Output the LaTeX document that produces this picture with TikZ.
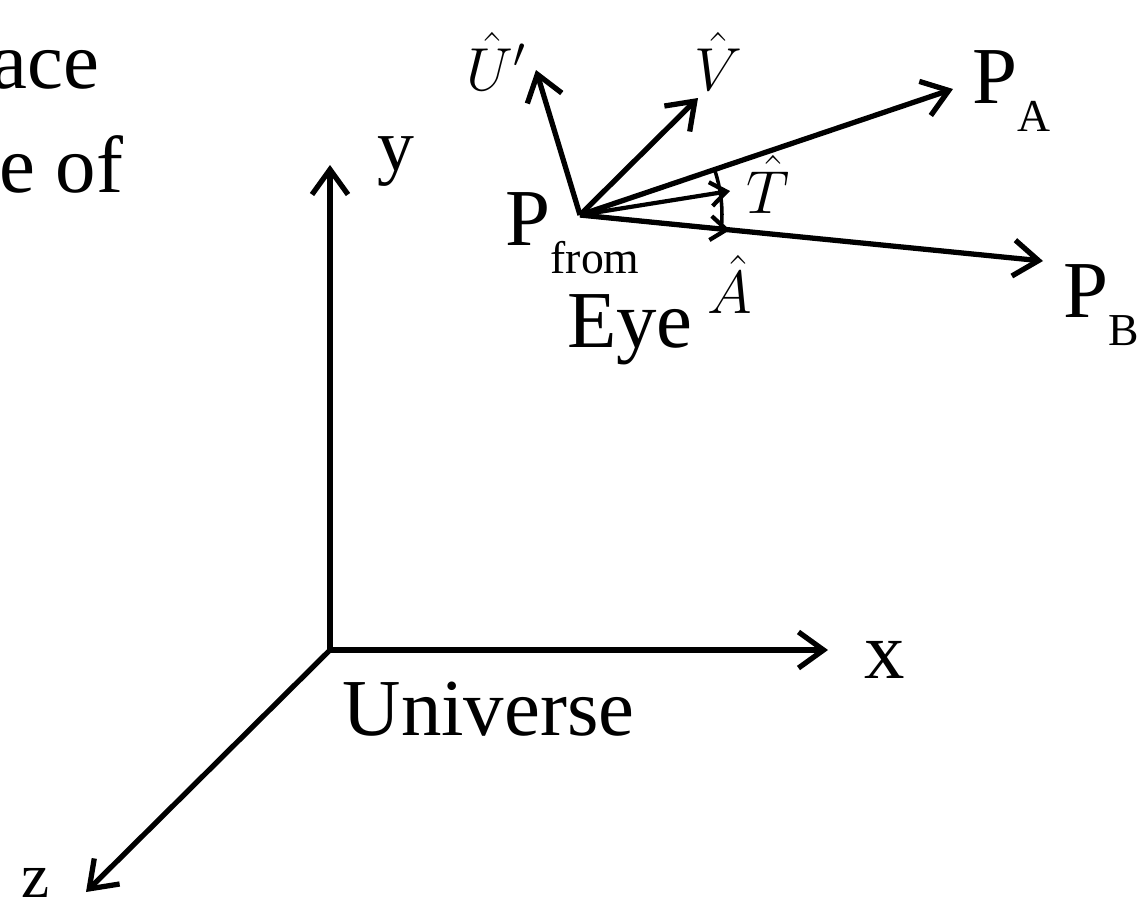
\documentclass[tikz,border=0pt]{standalone}
\usepackage{fontspec}
\setmainfont{Liberation Serif}
\usepackage{amsmath}
\usepackage{tikz}
\usetikzlibrary{arrows.meta, calc}
\newcommand{\lowsub}[1]{\raisebox{-8pt}{\fontsize{13}{13}\selectfont #1}}

\begin{document}
\begin{tikzpicture}[font=\fontsize{23}{27}\selectfont,
  vec/.style={-{Straight Barb[length=2.5mm, width=3.6mm]}, line width=1.5pt},
  unitvec/.style={-{Straight Barb[length=1.6mm, width=2.4mm]}, line width=1.2pt},
  lbl/.style={font=\fontsize{17}{20}\selectfont, inner sep=0pt}]
\useasboundingbox (0,0) rectangle (11.43,9.05);
\node[anchor=base east, inner sep=0pt] (txtA) at (1.00,8.17) {ace};
\node[anchor=base east, inner sep=0pt] (txtB) at (1.24,7.13) {e of};
\coordinate (O) at (3.30,2.55);
\coordinate (ytip) at (3.30,7.40);
\coordinate (xtip) at (8.28,2.55);
\coordinate (ztip) at (0.86,0.13);
\draw[vec] (O) -- (ytip);
\draw[vec] (O) -- (xtip);
\draw[vec] (O) -- (ztip);
\node[anchor=base, inner sep=0pt, font=\fontsize{21}{25}\selectfont] (ylab) at (3.96,7.35) {y};
\node[anchor=base, inner sep=0pt] (xlab) at (8.85,2.27) {x};
\node[anchor=base, inner sep=0pt, font=\fontsize{18}{21}\selectfont] (zlab) at (0.36,0.08) {z};
\node[anchor=base west, inner sep=0pt] (univ) at (3.42,1.70) {Universe};
\coordinate (F) at (5.80,6.90);
\coordinate (Utip) at (5.36,8.35);
\coordinate (Vtip) at (6.98,8.07);
\coordinate (PAtip) at (9.53,8.16);
\coordinate (PBtip) at (10.43,6.44);
\coordinate (Ttip) at (7.30,7.14);
\coordinate (Atip) at (7.30,6.75);
\draw[vec] (F) -- (Utip);
\draw[vec] (F) -- (Vtip);
\draw[vec] (F) -- (PAtip);
\draw[vec] (F) -- (PBtip);
\draw[unitvec] (F) -- (Ttip);
\draw[unitvec] (F) -- (Atip);
\draw[line width=1pt] ($(F)+(18.7:1.42)$) arc[start angle=18.7, end angle=-5.8, radius=1.42];
\node[lbl, anchor=base] (Ulab) at (4.97,8.15) {$\hat{U}'$};
\node[lbl, anchor=base] (Vlab) at (7.18,8.15) {$\hat{V}$};
\node[lbl, anchor=base] (Tlab) at (7.68,6.92) {$\hat{T}$};
\node[lbl, anchor=base] (Alab) at (7.30,5.92) {$\hat{A}$};
\node[anchor=base west, inner sep=0pt] (PAlab) at (9.72,8.02) {P\lowsub{A}};
\node[anchor=base west, inner sep=0pt] (PBlab) at (10.63,5.88) {P\lowsub{B}};
\node[anchor=base west, inner sep=0pt] (Pfrom) at (5.05,6.60) {P\lowsub{from}};
\node[anchor=base, inner sep=0pt] (eye) at (6.30,5.58) {Eye};
\end{tikzpicture}
\end{document}
